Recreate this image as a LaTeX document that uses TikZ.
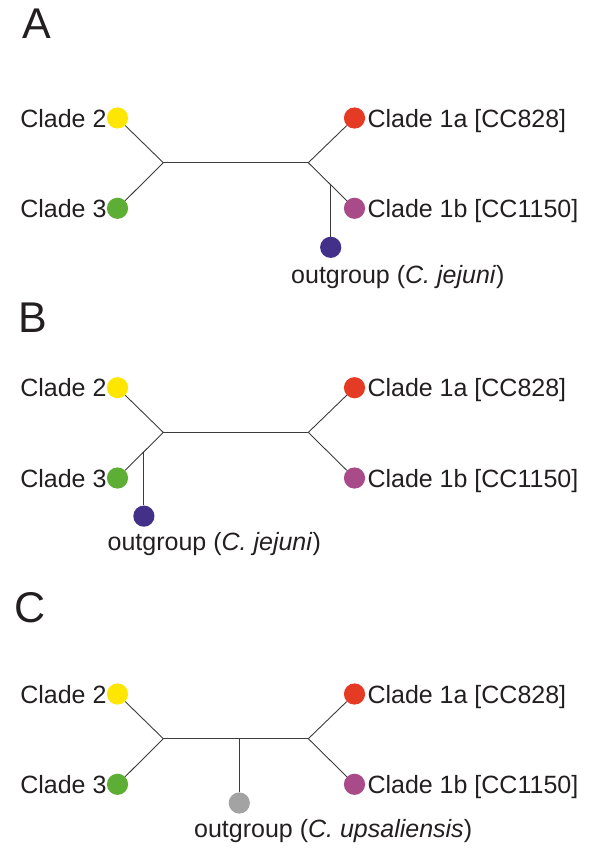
\documentclass[tikz,border=0pt]{standalone}
\usepackage{fontspec}
\setmainfont{Liberation Sans}
\usepackage{tikz}
\usetikzlibrary{calc,positioning}
\definecolor{ink}{HTML}{231F20}
\definecolor{edge}{HTML}{3C3C3C}
\definecolor{cyel}{HTML}{FFE600}
\definecolor{cgrn}{HTML}{5DAE34}
\definecolor{cred}{HTML}{E53B25}
\definecolor{cmag}{HTML}{A94B89}
\definecolor{cpur}{HTML}{433089}
\definecolor{cgry}{HTML}{A3A3A3}
\tikzset{
  leaf/.style={circle, inner sep=0pt, minimum size=21.2pt},
  lab/.style={font=\fontsize{25}{30}\selectfont, text=ink, inner sep=0pt,
    text height=18pt, text depth=0pt},
  branch/.style={draw=edge, line width=0.9pt},
  panel/.style={font=\fontsize{43}{50}\selectfont, text=ink, inner sep=0pt,
    anchor=base west}
}

\begin{document}
\begin{tikzpicture}[x=1pt,y=-1pt]
    \useasboundingbox (0,0) rectangle (600,859);
    \node[panel] (pA) at (22,39)  {A};
    \node[panel] (pB) at (18,332) {B};
    \node[panel] (pC) at (14,622) {C};
    % the four clades, same in each panel
    \foreach \p/\o in {A/0,B/269.7,C/576}{
      \coordinate (jl\p) at (163.3,162.7+\o);
      \coordinate (jr\p) at (308.3,162.7+\o);
      \node[leaf, fill=cyel] (c2\p)  at (117.5,118+\o)   {};
      \node[leaf, fill=cgrn] (c3\p)  at (117.5,208.3+\o) {};
      \node[leaf, fill=cred] (c1a\p) at (354.5,118+\o)   {};
      \node[leaf, fill=cmag] (c1b\p) at (354.5,208.3+\o) {};
      \node[lab, anchor=east] (l2\p) at (c2\p.west) {Clade 2};
      \node[lab, anchor=east] (l3\p) at (c3\p.west) {Clade 3};
      \node[lab, anchor=west, xshift=2pt] (l1a\p) at (c1a\p.east) {Clade 1a [CC828]};
      \node[lab, anchor=west, xshift=2pt] (l1b\p) at (c1b\p.east) {Clade 1b [CC1150]};
      \draw[branch] (jl\p) -- (jr\p);
      \draw[branch] (c2\p) -- (jl\p) -- (c3\p);
      \draw[branch] (c1a\p) -- (jr\p) -- (c1b\p);
    }
    % outgroups
    \coordinate (oA) at ($(jrA)!0.485!(c1bA)$);
    \node[leaf, fill=cpur] (ogA) at ($(oA)+(0,62.5)$) {};
    \draw[branch] (oA) -- (ogA);
    \node[lab, anchor=base west] (tA) at ($(ogA)+(-39.7,36)$) {outgroup (\textit{C. jejuni})};

    \coordinate (oB) at ($(jlB)!0.424!(c3B)$);
    \node[leaf, fill=cpur] (ogB) at ($(oB)+(0,64.4)$) {};
    \draw[branch] (oB) -- (ogB);
    \node[lab, anchor=base west] (tB) at ($(ogB)+(-36.4,34)$) {outgroup (\textit{C. jejuni})};

    \coordinate (oC) at ($(jlC)!0.524!(jrC)$);
    \node[leaf, fill=cgry] (ogC) at ($(oC)+(0,64.3)$) {};
    \draw[branch] (oC) -- (ogC);
    \node[lab, anchor=base west] (tC) at ($(ogC)+(-45.3,34)$) {outgroup (\textit{C. upsaliensis})};
\end{tikzpicture}
\end{document}
